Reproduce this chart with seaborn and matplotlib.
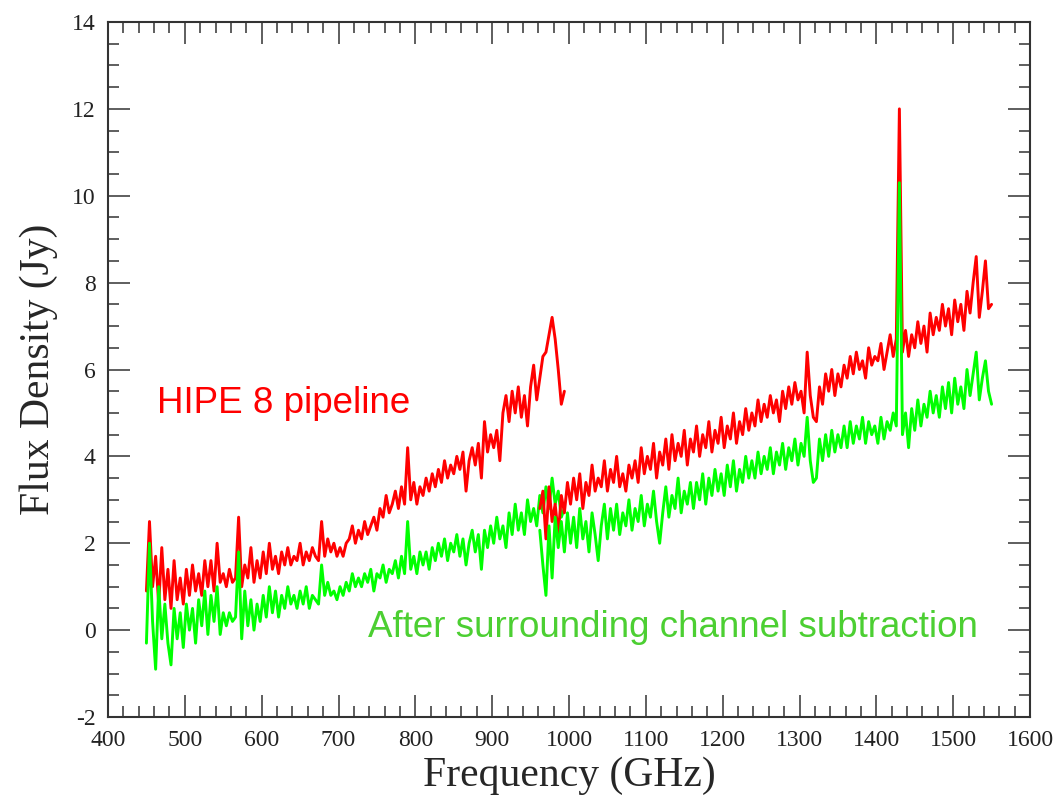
import numpy as np
import pandas as pd
import matplotlib
matplotlib.use("Agg")
import matplotlib.pyplot as plt
from matplotlib.ticker import MultipleLocator
import seaborn as sns

# ---------------- data ----------------
# Band 1 (SLW) sampled every 4 GHz from 450 to 994 GHz
freq_band1_start, freq_band1_stop, freq_step = 450, 994, 4
# Band 2 (SSW) sampled every 4 GHz from 962 to 1550 GHz
freq_band2_start, freq_band2_stop = 962, 1550

hipe_band1 = [
    0.9, 2.5, 1.0, 1.7, 0.6, 1.9, 0.7, 1.4, 0.5, 1.6,
    0.7, 1.2, 0.6, 1.4, 0.8, 1.5, 0.9, 1.3, 0.8, 1.6,
    1.0, 1.6, 0.9, 2.0, 1.1, 1.3, 1.0, 1.4, 1.1, 1.2,
    2.6, 1.0, 1.5, 1.2, 1.9, 1.1, 1.6, 1.2, 1.8, 1.3,
    2.0, 1.4, 1.7, 1.3, 1.8, 1.5, 1.9, 1.5, 1.7, 1.6,
    2.0, 1.5, 1.8, 1.6, 1.9, 1.7, 1.6, 2.5, 1.7, 2.1,
    1.8, 2.0, 1.7, 1.9, 1.7, 2.0, 2.1, 2.4, 2.0, 2.3,
    2.1, 2.5, 2.2, 2.4, 2.6, 2.3, 2.8, 2.6, 3.1, 2.7,
    2.9, 3.2, 2.8, 3.3, 2.9, 4.2, 3.0, 3.4, 2.9, 3.3,
    3.1, 3.5, 3.2, 3.6, 3.3, 3.7, 3.4, 3.9, 3.5, 3.8,
    3.6, 4.0, 3.7, 4.1, 3.2, 3.9, 4.2, 3.8, 4.3, 3.5,
    4.8, 4.1, 4.5, 4.2, 4.6, 3.9, 5.0, 5.4, 4.8, 5.5,
    5.0, 5.6, 4.9, 5.4, 4.7, 5.6, 6.1, 5.3, 5.8, 6.3,
    6.4, 6.8, 7.2, 6.7, 6.0, 5.2, 5.5,
]
hipe_band2 = [
    2.8, 3.2, 2.1, 3.3, 2.5, 2.9, 2.2, 3.1, 2.7, 3.4,
    2.9, 3.5, 3.0, 3.6, 2.8, 3.4, 3.1, 3.8, 3.2, 3.5,
    3.3, 3.9, 3.2, 3.7, 3.4, 4.0, 3.3, 3.6, 3.2, 3.8,
    3.5, 3.9, 3.4, 4.2, 3.6, 4.0, 3.7, 4.3, 3.5, 4.1,
    3.8, 4.4, 3.7, 4.5, 3.9, 4.3, 4.0, 4.6, 3.8, 4.4,
    4.1, 4.7, 4.0, 4.5, 4.2, 4.8, 4.1, 4.6, 4.3, 4.9,
    4.2, 4.7, 4.4, 5.0, 4.3, 4.8, 4.5, 5.1, 4.6, 5.0,
    4.7, 5.3, 4.8, 5.2, 4.9, 5.4, 5.0, 5.3, 4.8, 5.5,
    5.1, 5.6, 5.2, 5.7, 5.3, 5.5, 5.0, 6.4, 5.4, 4.9,
    4.8, 5.6, 5.2, 5.9, 5.5, 6.0, 5.4, 5.9, 5.6, 6.1,
    5.8, 6.3, 5.9, 6.4, 6.0, 6.2, 5.8, 6.5, 6.1, 6.3,
    6.2, 6.6, 6.0, 6.4, 6.8, 6.3, 6.7, 12.0, 6.4, 6.9,
    6.3, 6.8, 6.5, 7.1, 6.6, 7.0, 6.4, 7.3, 6.8, 7.2,
    6.9, 7.5, 7.0, 7.4, 6.8, 7.6, 7.1, 7.5, 6.9, 7.8,
    7.3, 8.0, 8.6, 7.2, 7.8, 8.5, 7.4, 7.5,
]
sub_band1 = [
    -0.3, 2.0, 0.2, -0.9, 1.0, -0.2, 0.6, -0.3, -0.8, 0.5,
    -0.2, 0.4, -0.4, 0.6, 0.0, 0.5, -0.3, 0.7, 0.1, 0.9,
    -0.1, 0.8, 0.2, 1.0, -0.1, 0.4, 0.1, 0.4, 0.2, 0.3,
    1.8, -0.2, 0.9, 0.1, 0.7, 0.0, 0.6, 0.2, 0.8, 0.3,
    1.0, 0.4, 0.9, 0.3, 0.8, 0.5, 1.0, 0.6, 0.8, 0.5,
    0.9, 0.6, 1.0, 0.5, 0.8, 0.7, 0.6, 1.5, 0.8, 1.1,
    0.8, 0.9, 0.7, 1.0, 0.8, 1.1, 0.9, 1.3, 1.0, 1.2,
    1.0, 1.3, 1.1, 1.4, 0.9, 1.3, 1.2, 1.5, 1.1, 1.4,
    1.3, 1.6, 1.2, 1.7, 1.3, 2.5, 1.4, 1.7, 1.3, 1.8,
    1.5, 1.8, 1.4, 1.9, 1.6, 2.0, 1.7, 2.1, 1.6, 2.0,
    1.8, 2.2, 1.7, 2.1, 1.5, 2.0, 2.3, 1.8, 2.2, 1.4,
    2.3, 1.9, 2.4, 2.0, 2.6, 2.1, 2.4, 1.9, 2.7, 2.2,
    2.9, 2.3, 2.7, 2.2, 3.0, 2.5, 2.8, 2.4, 3.1, 2.7,
    3.3, 2.8, 3.5, 2.9, 3.2, 2.6, 2.8,
]
sub_band2 = [
    2.3, 1.5, 0.8, 2.4, 1.2, 2.6, 1.9, 2.5, 1.8, 2.7,
    2.0, 2.6, 1.9, 2.8, 2.1, 2.5, 1.8, 2.7, 2.2, 1.6,
    2.4, 2.9, 2.1, 2.8, 2.3, 2.9, 2.2, 2.7, 2.4, 3.0,
    2.3, 2.8, 2.5, 3.1, 2.4, 2.9, 2.6, 3.2, 2.5, 2.0,
    2.7, 3.3, 2.6, 3.1, 2.8, 3.5, 2.7, 3.2, 2.9, 3.4,
    2.8, 3.4, 3.0, 3.6, 2.9, 3.5, 3.1, 3.7, 3.2, 3.6,
    3.1, 3.8, 3.3, 3.9, 3.2, 3.7, 3.4, 4.0, 3.5, 3.9,
    3.5, 4.1, 3.6, 4.0, 3.7, 4.2, 3.6, 4.1, 3.8, 4.3,
    3.7, 4.2, 3.9, 4.4, 3.8, 4.3, 4.0, 4.9, 3.9, 3.4,
    3.5, 4.4, 3.9, 4.5, 4.0, 4.6, 4.1, 4.5, 4.2, 4.7,
    4.2, 4.8, 4.3, 4.7, 4.4, 4.9, 4.3, 4.8, 4.5, 4.7,
    4.3, 4.9, 4.4, 4.8, 4.6, 5.0, 4.7, 10.3, 4.5, 5.0,
    4.2, 5.1, 4.6, 5.3, 4.7, 5.2, 4.9, 5.5, 5.0, 5.4,
    4.9, 5.6, 5.1, 5.7, 5.0, 5.8, 5.2, 5.6, 5.1, 6.0,
    5.4, 5.9, 6.4, 5.3, 5.8, 6.2, 5.5, 5.2,
]

label_hipe = "HIPE 8 pipeline"
label_sub = "After surrounding channel subtraction"
x_label = "Frequency (GHz)"
y_label = "Flux Density (Jy)"

# ---------------- build tidy table ----------------
f1 = np.arange(freq_band1_start, freq_band1_stop + 1, freq_step)
f2 = np.arange(freq_band2_start, freq_band2_stop + 1, freq_step)

frames = []
for name, band, fr, vals in [("hipe", 1, f1, hipe_band1), ("sub", 1, f1, sub_band1),
                             ("hipe", 2, f2, hipe_band2), ("sub", 2, f2, sub_band2)]:
    frames.append(pd.DataFrame({"freq": fr, "flux": vals, "series": name, "band": band}))
df = pd.concat(frames, ignore_index=True)

# ---------------- style ----------------
sns.set_style("ticks")
plt.rcParams["font.family"] = ["Liberation Serif", "DejaVu Serif"]
plt.rcParams["axes.unicode_minus"] = False

RED = "#ff0000"
GREEN = "#00ff00"
TEXT_GREEN = "#4ccf32"

fig = plt.figure(figsize=(10.64, 8.02), dpi=100)
ax = fig.add_axes([108 / 1064, 1 - 717 / 802, (1030 - 108) / 1064, (717 - 22) / 802])

order = [("hipe", 1, RED), ("sub", 1, GREEN), ("hipe", 2, RED), ("sub", 2, GREEN)]
for name, band, col in order:
    d = df[(df.series == name) & (df.band == band)]
    sns.lineplot(data=d, x="freq", y="flux", color=col, lw=2.1, ax=ax,
                 estimator=None, sort=False, legend=False)

ax.set_xlim(400, 1600)
ax.set_ylim(-2, 14)
ax.xaxis.set_major_locator(MultipleLocator(100))
ax.xaxis.set_minor_locator(MultipleLocator(20))
ax.yaxis.set_major_locator(MultipleLocator(2))
ax.yaxis.set_minor_locator(MultipleLocator(0.5))
ax.tick_params(which="both", direction="in", top=True, right=True,
               color="#333333", width=1.1)
ax.tick_params(which="major", length=16, labelsize=17, pad=9, labelcolor="#222222")
ax.tick_params(which="minor", length=8)
for s in ax.spines.values():
    s.set_linewidth(1.5)
    s.set_color("#333333")
    s.set_visible(True)

ax.set_xlabel(x_label, fontsize=30, labelpad=4)
ax.set_ylabel(y_label, fontsize=30, labelpad=10)

ax.text(464, 5.0, label_hipe, color=RED, fontsize=26.5,
        family=["Liberation Sans", "DejaVu Sans"], ha="left", va="baseline")
ax.text(738, -0.16, label_sub, color=TEXT_GREEN, fontsize=26.5,
        family=["Liberation Sans", "DejaVu Sans"], ha="left", va="baseline")

fig.savefig("out.png", dpi=100)
